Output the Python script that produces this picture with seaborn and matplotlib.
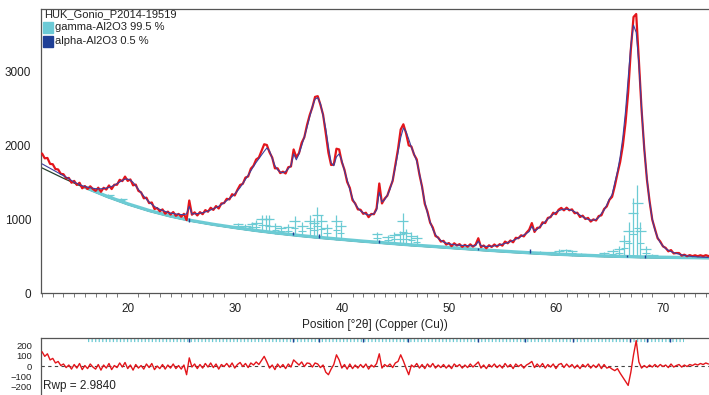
"""
Rietveld fit plot: HUK_Gonio_P2014-19519 (gamma / alpha Al2O3)
Observed, calculated, background and difference curve
"""

import numpy as np
import matplotlib
matplotlib.use("Agg")
import matplotlib.pyplot as plt
from matplotlib.patches import Rectangle
from matplotlib.ticker import MultipleLocator
import seaborn as sns

# 2theta grid of the scan (0.25 deg steps, 12.00 ... 74.25)
two_theta = np.arange(12.0, 74.3, 0.25)

# calculated profile, counts
calc = [
    1745, 1725, 1705, 1685, 1665, 1645, 1625, 1605, 1585, 1565,
    1545, 1520, 1500, 1480, 1465, 1450, 1440, 1430, 1422, 1415,
    1410, 1408, 1408, 1412, 1418, 1428, 1440, 1458, 1478, 1500,
    1522, 1538, 1540, 1525, 1495, 1450, 1400, 1355, 1310, 1268,
    1230, 1198, 1170, 1148, 1130, 1115, 1102, 1090, 1080, 1074,
    1068, 1064, 1060, 1060, 1070, 1170, 1068, 1070, 1073, 1078,
    1085, 1095, 1108, 1122, 1138, 1155, 1172, 1195, 1220, 1248,
    1275, 1305, 1338, 1380, 1425, 1480, 1535, 1590, 1650, 1710,
    1765, 1815, 1865, 1915, 1960, 1920, 1820, 1720, 1665, 1635,
    1625, 1640, 1680, 1720, 1880, 1800, 1880, 1990, 2110, 2240,
    2380, 2520, 2620, 2640, 2560, 2400, 2220, 1980, 1760, 1720,
    1840, 1880, 1790, 1650, 1530, 1400, 1280, 1200, 1150, 1110,
    1085, 1065, 1055, 1058, 1075, 1120, 1360, 1230, 1260, 1320,
    1400, 1530, 1700, 1900, 2100, 2230, 2180, 2080, 1970, 1880,
    1780, 1620, 1420, 1230, 1080, 960, 860, 790, 740, 710,
    690, 675, 665, 658, 652, 648, 645, 643, 641, 640,
    638, 637, 640, 700, 640, 632, 630, 630, 632, 636,
    642, 650, 660, 670, 682, 695, 710, 726, 745, 765,
    785, 805, 830, 900, 840, 860, 895, 930, 965, 1000,
    1035, 1065, 1090, 1110, 1125, 1132, 1133, 1128, 1115, 1098,
    1075, 1052, 1030, 1010, 995, 985, 985, 995, 1020, 1075,
    1120, 1190, 1270, 1330, 1490, 1640, 1840, 2100, 2450, 2900,
    3350, 3620, 3520, 3100, 2500, 1950, 1550, 1230, 1000, 850,
    750, 680, 635, 600, 578, 560, 545, 535, 525, 515,
    508, 502, 497, 493, 490, 487, 485, 483, 481, 480,
]

# difference curve (observed - calculated), counts
diff = [
    140, 95, 120, 60, 75, 30, 45, 5, 20, -15,
    10, -30, 15, -20, 25, -35, 5, -25, 20, -10,
    -30, 15, -40, 10, -20, 25, -35, 5, -15, 30,
    -10, 35, -25, 10, -40, 15, -20, 5, -30, 20,
    -15, 25, -35, 0, -25, 15, -30, 10, -20, 20,
    -25, 5, -30, 10, -85, 80, -10, 20, -25, 15,
    -20, 25, -10, 30, -15, 20, -30, 15, -5, 25,
    -10, 30, -20, 15, 35, -5, 25, -15, 30, 10,
    40, 15, 55, 95, 40, -20, 10, -35, 20, -15,
    15, -25, 20, -10, 60, 35, 10, 40, -5, 30,
    25, -10, 30, 20, -15, 10, -60, -85, -30, 15,
    110, 60, -20, 15, -30, 20, -25, 10, -20, 15,
    -15, 20, -30, 10, -10, 25, 120, -20, 15, -5,
    20, -15, 30, 45, 110, 50, -20, -85, 10, -10,
    25, -20, 15, -25, 20, -10, 25, -20, 10, -15,
    15, -20, 10, -25, 20, -5, 15, -20, 10, -15,
    20, -10, 15, 40, -20, 10, -25, 15, -10, 20,
    -15, 10, -20, 25, -10, 15, -25, 20, -5, 15,
    -20, 10, 25, 45, -15, 20, -10, 25, -20, 15,
    -10, 20, -25, 15, 25, -15, 20, -10, 15, -20,
    10, -25, 15, -10, 20, -20, 10, -15, 20, -25,
    15, -20, -10, -30, -45, -25, -70, -110, -150, -190,
    -60, 110, 250, 40, -20, 5, -15, 10, -10, 15,
    -10, 15, -5, 10, -15, 20, -10, 5, 15, -10,
    10, -5, 15, 5, 20, 10, 25, 15, 30, 20,
]

# background
bg_pos = [12, 14, 16, 18, 20, 22, 24, 26, 28, 30, 32, 34, 36, 38, 40, 42,
          44, 46, 48, 50, 52, 54, 56, 58, 60, 62, 64, 66, 68, 70, 72, 74.5]
bg_counts = [1690, 1550, 1420, 1300, 1195, 1105, 1030, 968, 918, 875, 835,
             800, 768, 740, 715, 690, 668, 645, 625, 605, 585, 565, 547, 530,
             515, 503, 493, 485, 478, 473, 469, 466]

# gamma-Al2O3 reflection markers: position, foot, top
gamma_pos = [17.0, 18.2, 19.4, 30.3, 31.0, 31.6, 32.0, 32.5, 32.9, 33.2,
             33.8, 34.3, 35.0, 35.6, 36.3, 37.0, 37.4, 37.7, 38.1, 38.6,
             39.5, 39.9, 43.3, 44.3, 44.9, 45.4, 45.7, 46.0, 46.5, 47.0,
             57.5, 58.5, 59.5, 60.3, 60.9, 61.5, 62.3, 64.5, 65.3, 65.9,
             66.4, 66.8, 67.2, 67.6, 67.9, 68.4, 69.0]
gamma_foot = [1360, 1290, 1230, 865, 855, 843, 835, 826, 820, 815,
              803, 795, 784, 774, 764, 754, 748, 744, 739, 732,
              722, 716, 676, 665, 658, 652, 649, 645, 640, 635,
              534, 526, 518, 513, 509, 506, 502, 491, 488, 485,
              484, 483, 481, 480, 479, 477, 475]
gamma_top = [1400, 1340, 1290, 950, 930, 965, 990, 1055, 1060, 1055,
             940, 900, 930, 1040, 960, 1050, 1010, 1160, 1060, 930,
             1060, 960, 830, 780, 830, 840, 1080, 870, 820, 780,
             560, 570, 560, 590, 600, 580, 540, 560, 600, 640,
             780, 960, 1280, 1460, 960, 640, 530]

# alpha-Al2O3 reflection markers
alpha_pos = [25.7, 35.4, 37.9, 43.5, 52.7, 57.6, 66.6, 68.3]
alpha_foot = [960, 780, 742, 674, 580, 534, 484, 477]
alpha_top = [1010, 830, 800, 720, 610, 590, 520, 510]
alpha_tick_pos = [25.7, 35.4, 37.9, 42.0, 46.2, 52.7, 57.1, 61.6, 66.9, 68.5, 70.7]

OBS = "#e3151b"
CALC = "#3d3f9e"
BG = "#26402e"
CYAN = "#6ccbd4"
NAVY = "#1f3f96"
GRID = "#7a7a7a"

sns.set_theme(style="white")
plt.rcParams["font.family"] = ["Liberation Sans", "DejaVu Sans"]

obs = np.array(calc) + np.array(diff)

fig = plt.figure(figsize=(7.09, 3.95), dpi=100)
ax = fig.add_axes([41 / 709, 102 / 395, 668 / 709, 284 / 395])
ax_r = fig.add_axes([41 / 709, 0, 668 / 709, 57 / 395])

# background first, the gamma band sits on top of it
sns.lineplot(x=bg_pos, y=bg_counts, ax=ax, color=BG, lw=0.9, zorder=1,
             estimator=None, sort=False)
ax.plot(bg_pos[2:], np.array(bg_counts[2:]) + 10, color=CYAN, lw=2.4, zorder=2)

# reflection markers
hgt = np.array(gamma_top) - np.array(gamma_foot)
ax.vlines(gamma_pos, gamma_foot, gamma_top, color=CYAN, lw=0.9, zorder=2)
ax.hlines(np.array(gamma_foot) + 0.75 * hgt, np.array(gamma_pos) - 0.5,
          np.array(gamma_pos) + 0.5, color=CYAN, lw=0.9, zorder=2)
ax.hlines(np.array(gamma_foot) + 0.4 * hgt, np.array(gamma_pos) - 0.35,
          np.array(gamma_pos) + 0.35, color=CYAN, lw=0.8, zorder=2)
ax.vlines(alpha_pos, alpha_foot, alpha_top, color=NAVY, lw=1.0, zorder=3)

sns.lineplot(x=two_theta, y=obs, ax=ax, color=OBS, lw=1.6, zorder=4,
             estimator=None, sort=False)
sns.lineplot(x=two_theta, y=calc, ax=ax, color=CALC, lw=0.8, zorder=5,
             estimator=None, sort=False)

ax.set_xlim(11.9, 74.3)
ax.set_ylim(0, 3838)
ax.xaxis.set_major_locator(MultipleLocator(10))
ax.xaxis.set_minor_locator(MultipleLocator(1))
ax.set_yticks([0, 1000, 2000, 3000])
ax.set_xlabel("Position [°2θ] (Copper (Cu))", fontsize=8.5, color="#222222", labelpad=3)
ax.set_ylabel("")

# difference panel
ax_r.axhline(0, color="#444444", lw=0.8, ls=(0, (3, 3)), zorder=1)
sns.lineplot(x=two_theta, y=diff, ax=ax_r, color=OBS, lw=1.0, zorder=3,
             estimator=None, sort=False)
ax_r.hlines(252, 16.3, 72.0, color=CYAN, lw=3, linestyles=(0, (0.3, 0.55)), zorder=2)
ax_r.vlines(alpha_tick_pos, 232, 272, color=NAVY, lw=1.0, zorder=2)
ax_r.set_xlim(11.9, 74.3)
ax_r.set_ylim(-284, 275)
ax_r.set_yticks([-200, -100, 0, 100, 200])
ax_r.set_xticks([])
ax_r.set_xlabel("")
ax_r.set_ylabel("")
ax_r.text(12.1, -200, "Rwp = 2.9840", fontsize=8.5, color="#222222", va="center")

for a in (ax, ax_r):
    a.set_facecolor("white")
    for side in ("left", "top", "bottom"):
        a.spines[side].set_color("#555555")
        a.spines[side].set_linewidth(0.9)
    a.spines["right"].set_visible(False)
    a.tick_params(axis="both", which="major", direction="out", length=5,
                  width=0.8, color=GRID, labelsize=8.5, labelcolor="#222222", pad=2)
    a.tick_params(axis="x", which="minor", direction="out", length=3,
                  width=0.7, color=GRID)
ax_r.spines["bottom"].set_visible(False)
ax_r.tick_params(axis="y", labelsize=6.8, pad=1.5)
ax.tick_params(axis="x", which="minor", bottom=True)

# legend block
fig.text(44 / 709, 1 - 14 / 395, "HUK_Gonio_P2014-19519", fontsize=8,
         color="#222222", va="center")
fig.patches.append(Rectangle((43 / 709, 1 - 33 / 395), 10 / 709, 11 / 395,
                             transform=fig.transFigure, color="#6ccad6"))
fig.patches.append(Rectangle((43 / 709, 1 - 47 / 395), 10 / 709, 11 / 395,
                             transform=fig.transFigure, color=NAVY))
fig.text(55 / 709, 1 - 27.5 / 395, "gamma-Al2O3 99.5 %", fontsize=8,
         color="#222222", va="center")
fig.text(55 / 709, 1 - 41.5 / 395, "alpha-Al2O3 0.5 %", fontsize=8,
         color="#222222", va="center")

fig.savefig("out.png", dpi=100)
